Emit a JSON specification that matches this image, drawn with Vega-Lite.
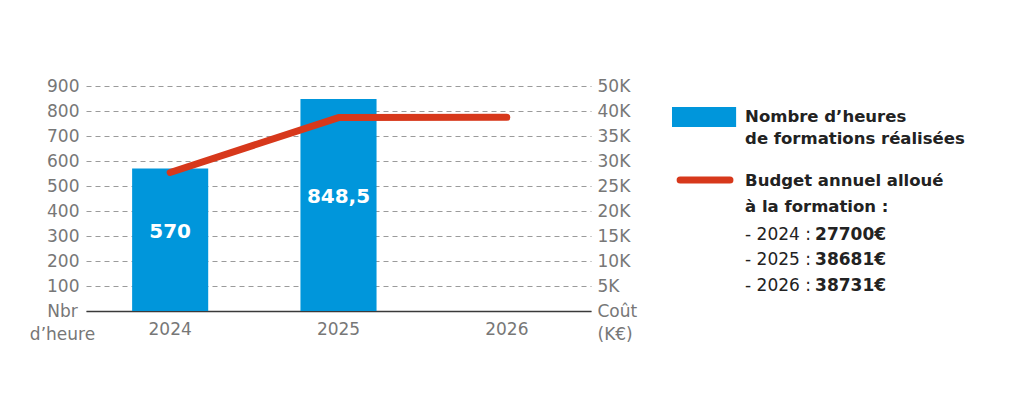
{
  "$schema": "https://vega.github.io/schema/vega-lite/v6.json",
  "padding": {"left": 29, "top": 77, "right": 0, "bottom": 0},
  "background": "white",
  "config": {"view": {"stroke": null}, "font": "DejaVu Sans"},
  "datasets": {
    "formation": [
      {"annee": "2024", "heures": 570, "budget": 27700},
      {"annee": "2025", "heures": 848.5, "budget": 38681},
      {"annee": "2026", "heures": null, "budget": 38731}
    ]
  },
  "spacing": 35,
  "hconcat": [
    {
      "width": 505,
      "height": 225,
      "data": {"name": "formation"},
      "encoding": {
        "x": {
          "field": "annee",
          "type": "ordinal",
          "scale": {"paddingInner": 0.548, "paddingOuter": 0.274},
          "axis": {
            "title": null,
            "labelAngle": 0,
            "ticks": false,
            "domainColor": "#3a3a3a",
            "domainWidth": 1.5,
            "labelColor": "#777777",
            "labelFontSize": 17,
            "labelPadding": 10
          }
        }
      },
      "layer": [
        {
          "mark": {"type": "bar", "color": "#0096DB"},
          "encoding": {
            "y": {
              "field": "heures",
              "type": "quantitative",
              "scale": {"domain": [0, 900]},
              "axis": {
                "orient": "left",
                "title": null,
                "values": [0, 100, 200, 300, 400, 500, 600, 700, 800, 900],
                "domain": false,
                "ticks": false,
                "grid": true,
                "gridDash": [5, 4],
                "gridColor": "#9b9b9b",
                "gridWidth": 1,
                "labelColor": "#777777",
                "labelFontSize": 17,
                "labelOverlap": false,
                "labelLineHeight": 23,
                "labelExpr": "datum.value === 0 ? ['Nbr', 'd’heure'] : datum.label",
                "labelAlign": {"condition": {"test": "datum.value === 0", "value": "center"}, "value": "right"},
                "labelPadding": {"condition": {"test": "datum.value === 0", "value": 24}, "value": 7}
              }
            }
          }
        },
        {
          "transform": [
            {"filter": "isValid(datum.heures)"},
            {"calculate": "datum.heures / 2", "as": "milieu"},
            {"calculate": "replace(toString(datum.heures), '.', ',')", "as": "etiquette"}
          ],
          "mark": {"type": "text", "color": "white", "fontWeight": "bold", "fontSize": 20, "dy": -8},
          "encoding": {
            "y": {"field": "milieu", "type": "quantitative", "scale": {"domain": [0, 900]}, "axis": null},
            "text": {"field": "etiquette"}
          }
        },
        {
          "mark": {"type": "line", "color": "#D7381B", "strokeWidth": 7, "strokeCap": "round", "strokeJoin": "round"},
          "encoding": {
            "y": {
              "field": "budget",
              "type": "quantitative",
              "scale": {"domain": [0, 45000]},
              "axis": {
                "orient": "right",
                "title": null,
                "values": [0, 5000, 10000, 15000, 20000, 25000, 30000, 35000, 40000, 45000],
                "domain": false,
                "ticks": false,
                "grid": false,
                "labelColor": "#777777",
                "labelFontSize": 17,
                "labelOverlap": false,
                "labelLineHeight": 23,
                "labelPadding": 6,
                "labelExpr": "datum.value === 0 ? ['Coût', '(K€)'] : datum.value === 45000 ? '50K' : (datum.value / 1000) + 'K'"
              }
            }
          }
        }
      ],
      "resolve": {"scale": {"y": "independent"}}
    },
    {
      "width": 280,
      "height": 225,
      "layer": [
        {
          "data": {"values": [{}]},
          "layer": [
            {
              "mark": {"type": "rect", "color": "#0096DB"},
              "encoding": {
                "x": {"datum": 0, "type": "quantitative", "scale": {"domain": [0, 100]}, "axis": null},
                "x2": {"datum": 22.9},
                "y": {"datum": 0.84, "type": "quantitative", "scale": {"domain": [0, 9], "reverse": true}, "axis": null},
                "y2": {"datum": 1.64}
              }
            },
            {
              "mark": {"type": "text", "align": "left", "baseline": "middle", "fontWeight": "bold", "fontSize": 16.5, "lineHeight": 22, "color": "#222222"},
              "encoding": {
                "x": {"datum": 26.1, "type": "quantitative", "axis": null},
                "y": {"datum": 1.24, "type": "quantitative", "axis": null},
                "text": {"value": ["Nombre d’heures", "de formations réalisées"]}
              }
            },
            {
              "mark": {"type": "rule", "color": "#D7381B", "strokeWidth": 7, "strokeCap": "round"},
              "encoding": {
                "x": {"datum": 2.9, "type": "quantitative", "axis": null},
                "x2": {"datum": 20.7},
                "y": {"datum": 3.76, "type": "quantitative", "axis": null}
              }
            },
            {
              "mark": {"type": "text", "align": "left", "baseline": "middle", "fontWeight": "bold", "fontSize": 16.5, "lineHeight": 26, "color": "#222222"},
              "encoding": {
                "x": {"datum": 26.1, "type": "quantitative", "axis": null},
                "y": {"datum": 3.8, "type": "quantitative", "axis": null},
                "text": {"value": ["Budget annuel alloué", "à la formation :"]}
              }
            }
          ]
        },
        {
          "data": {"name": "formation"},
          "transform": [
            {"calculate": "toNumber(datum.annee)", "as": "an"},
            {"calculate": "'- ' + datum.annee + ' :'", "as": "prefixe"},
            {"calculate": "datum.budget + '€'", "as": "montant"}
          ],
          "encoding": {
            "y": {"field": "an", "type": "quantitative", "scale": {"domain": [2018.157, 2026.981], "reverse": true, "zero": false, "nice": false}, "axis": null}
          },
          "layer": [
            {
              "mark": {"type": "text", "align": "left", "baseline": "middle", "fontSize": 17, "color": "#222222"},
              "encoding": {
                "x": {"datum": 26.1, "type": "quantitative", "axis": null},
                "text": {"field": "prefixe"}
              }
            },
            {
              "mark": {"type": "text", "align": "left", "baseline": "middle", "fontSize": 17, "fontWeight": "bold", "color": "#222222"},
              "encoding": {
                "x": {"datum": 51.1, "type": "quantitative", "axis": null},
                "text": {"field": "montant"}
              }
            }
          ]
        }
      ],
      "resolve": {"scale": {"y": "independent"}}
    }
  ]
}
